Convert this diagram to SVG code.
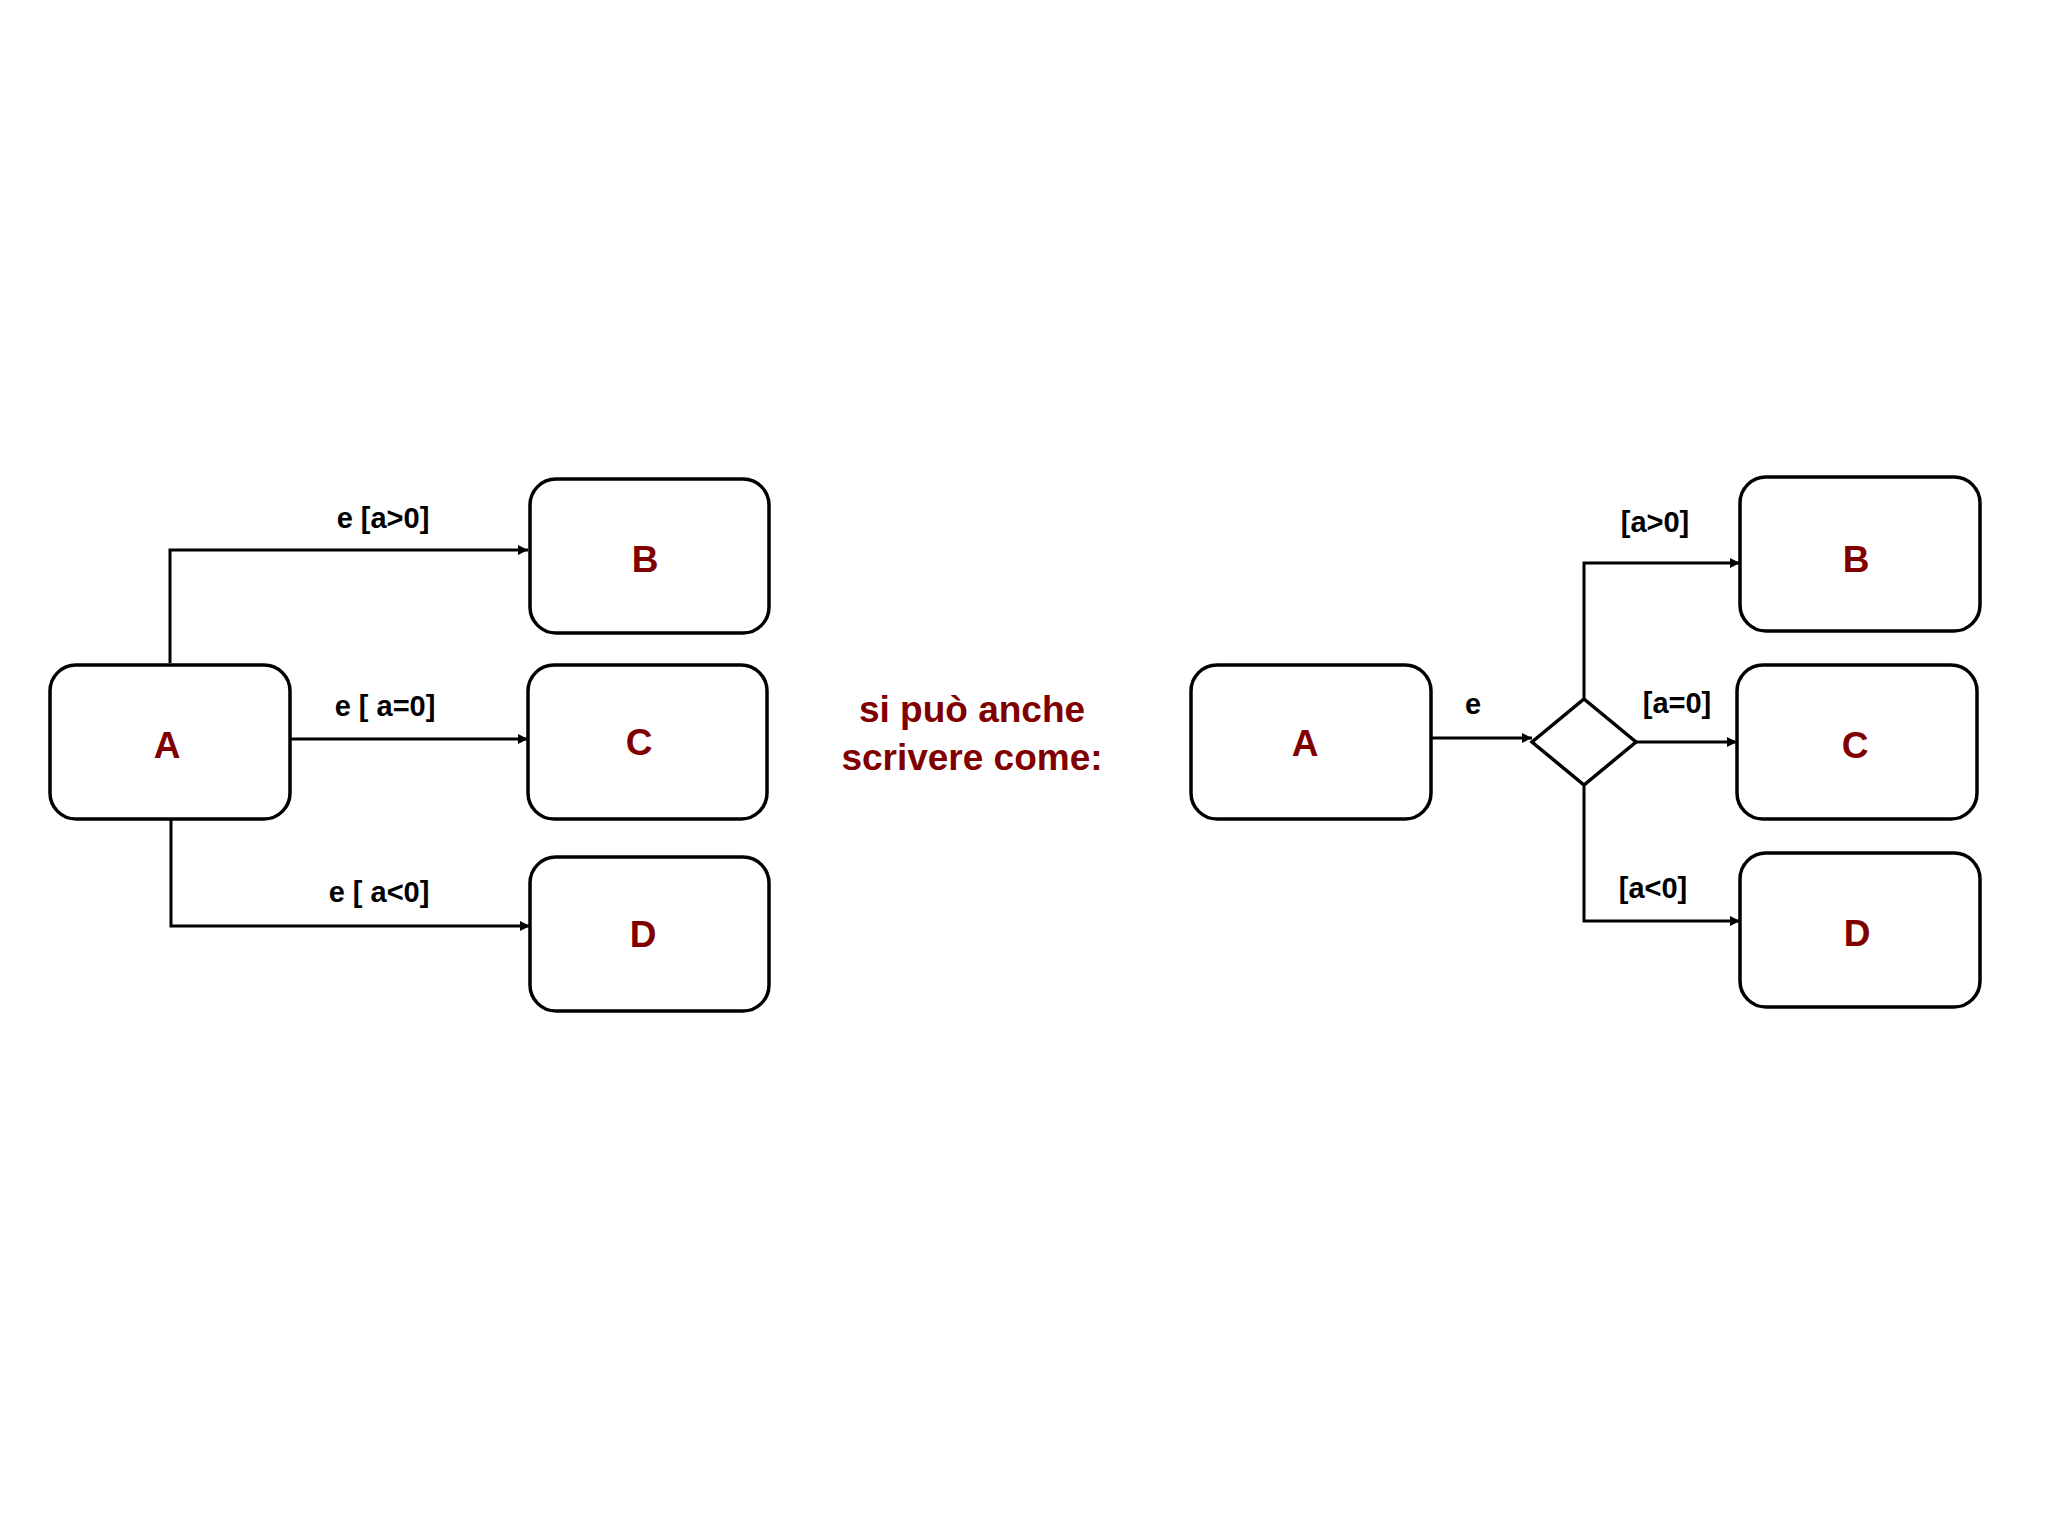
<svg xmlns="http://www.w3.org/2000/svg" width="2048" height="1536" viewBox="0 0 2048 1536">
<style>
.n{fill:#fff;stroke:#000;stroke-width:3.5}
.t{font-family:"Liberation Sans",Arial,sans-serif;font-weight:bold;font-size:37px;fill:#800000;text-anchor:middle;dominant-baseline:central}
.l{font-family:"Liberation Sans",Arial,sans-serif;font-weight:bold;font-size:29px;fill:#000;text-anchor:middle;dominant-baseline:central}
.c{fill:none;stroke:#000;stroke-width:3}
</style>
<defs><marker id="ah" markerWidth="10" markerHeight="10" refX="10" refY="5" orient="auto" markerUnits="userSpaceOnUse" viewBox="0 0 10 10"><path d="M0,0 L10,5 L0,10z" fill="#000"/></marker></defs>
<rect width="2048" height="1536" fill="#fff"/>
<g id="connectors">
<polyline class="c" points="170,663 170,550 528,550" marker-end="url(#ah)"/>
<line class="c" x1="290" y1="739" x2="528" y2="739" marker-end="url(#ah)"/>
<polyline class="c" points="171,815 171,926 530,926" marker-end="url(#ah)"/>
<line class="c" x1="1431" y1="738" x2="1532" y2="738" marker-end="url(#ah)"/>
<polyline class="c" points="1584,699 1584,563 1740,563" marker-end="url(#ah)"/>
<line class="c" x1="1636" y1="742" x2="1737" y2="742" marker-end="url(#ah)"/>
<polyline class="c" points="1584,785 1584,921 1740,921" marker-end="url(#ah)"/>
<text class="l" x="383" y="518">e [a&gt;0]</text>
<text class="l" x="385" y="706">e [ a=0]</text>
<text class="l" x="379" y="892">e [ a&lt;0]</text>
<text class="l" x="1473" y="704">e</text>
<text class="l" x="1655" y="522">[a&gt;0]</text>
<text class="l" x="1677" y="703">[a=0]</text>
<text class="l" x="1653" y="888">[a&lt;0]</text>
</g>
<g id="A1"><rect class="n" x="50" y="665" width="240" height="154" rx="26"/><text class="t" x="167" y="745">A</text></g>
<g id="B1"><rect class="n" x="530" y="479" width="239" height="154" rx="26"/><text class="t" x="645" y="559">B</text></g>
<g id="C1"><rect class="n" x="528" y="665" width="239" height="154" rx="26"/><text class="t" x="639" y="742">C</text></g>
<g id="D1"><rect class="n" x="530" y="857" width="239" height="154" rx="26"/><text class="t" x="643" y="934">D</text></g>
<g id="mid"><text class="t" x="972" y="709">si può anche</text><text class="t" x="972" y="757">scrivere come:</text></g>
<g id="A2"><rect class="n" x="1191" y="665" width="240" height="154" rx="26"/><text class="t" x="1305" y="743">A</text></g>
<g id="dec"><polygon class="n" points="1584,699 1636,742 1584,785 1532,742"/></g>
<g id="B2"><rect class="n" x="1740" y="477" width="240" height="154" rx="26"/><text class="t" x="1856" y="559">B</text></g>
<g id="C2"><rect class="n" x="1737" y="665" width="240" height="154" rx="26"/><text class="t" x="1855" y="745">C</text></g>
<g id="D2"><rect class="n" x="1740" y="853" width="240" height="154" rx="26"/><text class="t" x="1857" y="933">D</text></g>
</svg>
